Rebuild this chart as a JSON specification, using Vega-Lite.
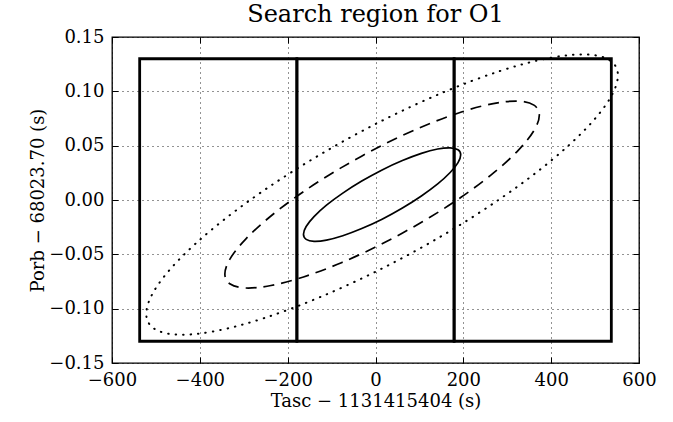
{
  "$schema": "https://vega.github.io/schema/vega-lite/v6.json",
  "width": 527,
  "height": 326,
  "autosize": {"type": "none"},
  "padding": {"left": 112, "top": 37, "right": 34, "bottom": 59},
  "background": "white",
  "title": {"text": "Search region for O1", "font": "DejaVu Serif", "fontSize": 24, "fontWeight": "normal", "color": "black", "anchor": "middle", "offset": 1},
  "config": {
    "view": {"stroke": "black", "strokeWidth": 1.3},
    "axis": {"labelFont": "DejaVu Serif", "titleFont": "DejaVu Serif", "labelFontSize": 18, "titleFontSize": 18, "titleFontWeight": "normal", "labelColor": "black", "titleColor": "black", "tickColor": "black", "domain": false, "labelFlush": false, "labelOverlap": false}
  },
  "datasets": {
    "boxes": [
      {"x1": -537, "x2": -179, "y1": -0.13, "y2": 0.13},
      {"x1": -179, "x2": 179, "y1": -0.13, "y2": 0.13},
      {"x1": 179, "x2": 537, "y1": -0.13, "y2": 0.13}
    ],
    "e1": [
      {"i": 0, "x": 194, "y": 0.0416}, {"i": 1, "x": 187.9, "y": 0.0462}, {"i": 2, "x": 170, "y": 0.048}, {"i": 3, "x": 141.6, "y": 0.0469},
      {"i": 4, "x": 104.5, "y": 0.0429}, {"i": 5, "x": 61.3, "y": 0.0363}, {"i": 6, "x": 15, "y": 0.0277}, {"i": 7, "x": -31.3, "y": 0.0174},
      {"i": 8, "x": -74.5, "y": 0.0063}, {"i": 9, "x": -111.6, "y": -0.0048}, {"i": 10, "x": -140, "y": -0.0153}, {"i": 11, "x": -157.9, "y": -0.0244},
      {"i": 12, "x": -164, "y": -0.0316}, {"i": 13, "x": -157.9, "y": -0.0362}, {"i": 14, "x": -140, "y": -0.038}, {"i": 15, "x": -111.6, "y": -0.0369},
      {"i": 16, "x": -74.5, "y": -0.0329}, {"i": 17, "x": -31.3, "y": -0.0263}, {"i": 18, "x": 15, "y": -0.0177}, {"i": 19, "x": 61.3, "y": -0.0074},
      {"i": 20, "x": 104.5, "y": 0.0037}, {"i": 21, "x": 141.6, "y": 0.0148}, {"i": 22, "x": 170, "y": 0.0253}, {"i": 23, "x": 187.9, "y": 0.0344}
    ],
    "e2": [
      {"i": 0, "x": 373, "y": 0.0781}, {"i": 1, "x": 360.8, "y": 0.0873}, {"i": 2, "x": 325, "y": 0.091}, {"i": 3, "x": 268.1, "y": 0.0887},
      {"i": 4, "x": 194, "y": 0.0808}, {"i": 5, "x": 107.7, "y": 0.0677}, {"i": 6, "x": 15, "y": 0.0503}, {"i": 7, "x": -77.7, "y": 0.0298},
      {"i": 8, "x": -164, "y": 0.0077}, {"i": 9, "x": -238.1, "y": -0.0147}, {"i": 10, "x": -295, "y": -0.0357}, {"i": 11, "x": -330.8, "y": -0.0539},
      {"i": 12, "x": -343, "y": -0.0681}, {"i": 13, "x": -330.8, "y": -0.0773}, {"i": 14, "x": -295, "y": -0.081}, {"i": 15, "x": -238.1, "y": -0.0787},
      {"i": 16, "x": -164, "y": -0.0708}, {"i": 17, "x": -77.7, "y": -0.0577}, {"i": 18, "x": 15, "y": -0.0403}, {"i": 19, "x": 107.7, "y": -0.0198},
      {"i": 20, "x": 194, "y": 0.0023}, {"i": 21, "x": 268.1, "y": 0.0247}, {"i": 22, "x": 325, "y": 0.0457}, {"i": 23, "x": 360.8, "y": 0.0639}
    ],
    "e3": [
      {"i": 0, "x": 552, "y": 0.1147}, {"i": 1, "x": 533.7, "y": 0.1285}, {"i": 2, "x": 480, "y": 0.1339}, {"i": 3, "x": 394.7, "y": 0.1306},
      {"i": 4, "x": 283.5, "y": 0.1187}, {"i": 5, "x": 154, "y": 0.099}, {"i": 6, "x": 15, "y": 0.073}, {"i": 7, "x": -124, "y": 0.0423},
      {"i": 8, "x": -253.5, "y": 0.009}, {"i": 9, "x": -364.7, "y": -0.0245}, {"i": 10, "x": -450, "y": -0.056}, {"i": 11, "x": -503.7, "y": -0.0833},
      {"i": 12, "x": -522, "y": -0.1047}, {"i": 13, "x": -503.7, "y": -0.1185}, {"i": 14, "x": -450, "y": -0.1239}, {"i": 15, "x": -364.7, "y": -0.1206},
      {"i": 16, "x": -253.5, "y": -0.1087}, {"i": 17, "x": -124, "y": -0.089}, {"i": 18, "x": 15, "y": -0.063}, {"i": 19, "x": 154, "y": -0.0323},
      {"i": 20, "x": 283.5, "y": 0.001}, {"i": 21, "x": 394.7, "y": 0.0345}, {"i": 22, "x": 480, "y": 0.066}, {"i": 23, "x": 533.7, "y": 0.0933}
    ]
  },
  "resolve": {"axis": {"x": "independent", "y": "independent"}},
  "layer": [
    {
      "data": {"name": "boxes"},
      "mark": {"type": "rect", "fill": null, "stroke": "black", "strokeWidth": 2.8},
      "encoding": {
        "x": {"field": "x1", "type": "quantitative", "scale": {"domain": [-600, 600], "nice": false, "zero": false},
              "axis": {"values": [-600, -400, -200, 0, 200, 400, 600], "format": "d", "grid": true, "gridColor": "black", "gridDash": [1, 4], "gridWidth": 1, "gridOpacity": 0.85, "tickSize": -6, "tickWidth": 1, "labelPadding": 14, "title": "Tasc − 1131415404 (s)", "titlePadding": 3}},
        "x2": {"field": "x2"},
        "y": {"field": "y1", "type": "quantitative", "scale": {"domain": [-0.15, 0.15], "nice": false, "zero": false},
              "axis": {"values": [-0.15, -0.1, -0.05, 0, 0.05, 0.1, 0.15], "format": ".2f", "grid": true, "gridColor": "black", "gridDash": [1, 4], "gridWidth": 1, "gridOpacity": 0.85, "tickSize": -6, "tickWidth": 1, "labelPadding": 14, "title": "Porb − 68023.70 (s)", "titlePadding": 1}},
        "y2": {"field": "y2"}
      }
    },
    {
      "data": {"name": "e1"},
      "mark": {"type": "line", "interpolate": "cardinal-closed", "color": "black", "strokeWidth": 1.7},
      "encoding": {
        "x": {"field": "x", "type": "quantitative", "axis": null},
        "y": {"field": "y", "type": "quantitative", "axis": null},
        "order": {"field": "i", "type": "quantitative"}
      }
    },
    {
      "data": {"name": "e2"},
      "mark": {"type": "line", "interpolate": "cardinal-closed", "color": "black", "strokeWidth": 1.7, "strokeDash": [11, 7]},
      "encoding": {
        "x": {"field": "x", "type": "quantitative", "axis": null},
        "y": {"field": "y", "type": "quantitative", "axis": null},
        "order": {"field": "i", "type": "quantitative"}
      }
    },
    {
      "data": {"name": "e3"},
      "mark": {"type": "line", "interpolate": "cardinal-closed", "color": "black", "strokeWidth": 2, "strokeDash": [0.5, 7], "strokeCap": "round"},
      "encoding": {
        "x": {"field": "x", "type": "quantitative", "axis": null},
        "y": {"field": "y", "type": "quantitative", "axis": null},
        "order": {"field": "i", "type": "quantitative"}
      }
    },
    {
      "data": {"name": "boxes"},
      "mark": {"type": "point", "opacity": 0},
      "encoding": {
        "x": {"field": "x1", "type": "quantitative",
              "axis": {"orient": "top", "values": [-600, -400, -200, 0, 200, 400, 600], "labels": false, "grid": false, "tickSize": -6, "tickWidth": 1, "title": null}},
        "y": {"field": "y1", "type": "quantitative",
              "axis": {"orient": "right", "values": [-0.15, -0.1, -0.05, 0, 0.05, 0.1, 0.15], "labels": false, "grid": false, "tickSize": -6, "tickWidth": 1, "title": null}}
      }
    }
  ]
}
